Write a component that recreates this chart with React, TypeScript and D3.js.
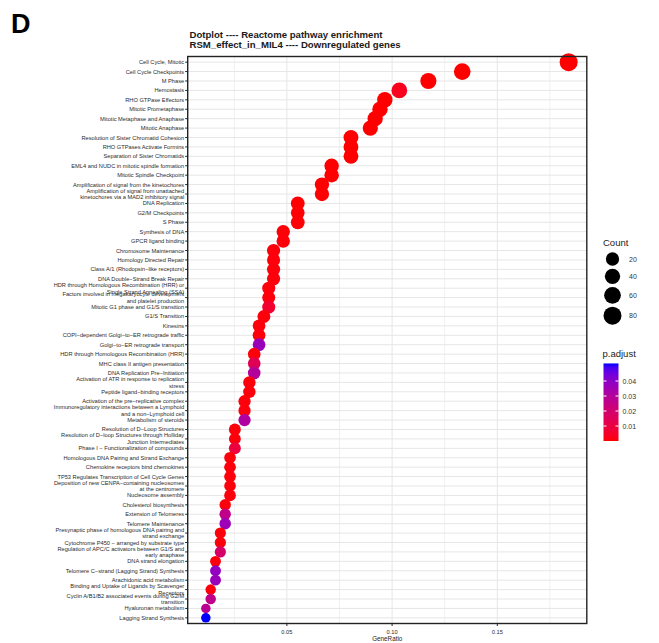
import React from "react";
import * as d3 from "d3";

const pathways: string[] = [
  "Cell Cycle, Mitotic",
  "Cell Cycle Checkpoints",
  "M Phase",
  "Hemostasis",
  "RHO GTPase Effectors",
  "Mitotic Prometaphase",
  "Mitotic Metaphase and Anaphase",
  "Mitotic Anaphase",
  "Resolution of Sister Chromatid Cohesion",
  "RHO GTPases Activate Formins",
  "Separation of Sister Chromatids",
  "EML4 and NUDC in mitotic spindle formation",
  "Mitotic Spindle Checkpoint",
  "Amplification of signal from the kinetochores",
  "Amplification  of signal from unattached\nkinetochores via a MAD2  inhibitory signal",
  "DNA Replication",
  "G2/M Checkpoints",
  "S Phase",
  "Synthesis of DNA",
  "GPCR ligand binding",
  "Chromosome Maintenance",
  "Homology Directed Repair",
  "Class A/1 (Rhodopsin\u2212like receptors)",
  "DNA Double\u2212Strand Break Repair",
  "HDR through Homologous Recombination (HRR) or\nSingle Strand Annealing (SSA)",
  "Factors involved in megakaryocyte development\nand platelet production",
  "Mitotic G1 phase and G1/S transition",
  "G1/S Transition",
  "Kinesins",
  "COPI\u2212dependent Golgi\u2212to\u2212ER retrograde traffic",
  "Golgi\u2212to\u2212ER retrograde transport",
  "HDR through Homologous Recombination (HRR)",
  "MHC class II antigen presentation",
  "DNA Replication Pre\u2212Initiation",
  "Activation of ATR in response to replication\nstress",
  "Peptide ligand\u2212binding receptors",
  "Activation of the pre\u2212replicative complex",
  "Immunoregulatory interactions between a Lymphoid\nand a non\u2212Lymphoid cell",
  "Metabolism of steroids",
  "Resolution of D\u2212Loop Structures",
  "Resolution of D\u2212loop Structures through Holliday\nJunction Intermediates",
  "Phase I \u2212 Functionalization of compounds",
  "Homologous DNA Pairing and Strand Exchange",
  "Chemokine receptors bind chemokines",
  "TP53 Regulates Transcription of Cell Cycle Genes",
  "Deposition of new CENPA\u2212containing nucleosomes\nat the centromere",
  "Nucleosome assembly",
  "Cholesterol biosynthesis",
  "Extension of Telomeres",
  "Telomere Maintenance",
  "Presynaptic phase of homologous DNA pairing and\nstrand exchange",
  "Cytochrome P450 \u2212 arranged by substrate type",
  "Regulation of APC/C activators between G1/S and\nearly anaphase",
  "DNA strand elongation",
  "Telomere C\u2212strand (Lagging Strand) Synthesis",
  "Arachidonic acid metabolism",
  "Binding and Uptake of Ligands by Scavenger\nReceptors",
  "Cyclin A/B1/B2 associated events during G2/M\ntransition",
  "Hyaluronan metabolism",
  "Lagging Strand Synthesis",
];

const geneCounts: number[] = [
  80, 58, 51, 45, 42, 41, 40, 39, 35, 35,
  35, 31, 31, 29, 29, 24, 24, 24, 21, 21,
  19, 19, 19, 19, 18, 18, 18, 17, 16, 16,
  16, 15, 15, 15, 14, 14, 13, 13, 13, 11,
  11, 11, 10, 10, 10, 10, 10, 9, 9, 9,
  8, 8, 8, 7, 7, 7, 6, 6, 5, 5,
];

const pAdjust: number[] = [
  1e-12, 1e-9, 1e-8, 0.003, 1e-6, 2e-6, 3e-6, 5e-6, 1e-5, 2e-5,
  3e-5, 1e-4, 1e-4, 2e-4, 2e-4, 3e-4, 4e-4, 5e-4, 6e-4, 8e-4,
  9e-4, 1e-3, 1e-3, 1e-3, 1e-3, 1e-3, 0.006, 1e-3, 1e-3, 1e-3,
  0.037, 1e-3, 0.014, 0.03, 1e-3, 1e-3, 1e-3, 1e-3, 0.031, 1e-3,
  1e-3, 0.009, 1e-3, 1e-3, 1e-3, 1e-3, 1e-3, 1e-3, 0.026, 0.036,
  1e-3, 1e-3, 0.018, 1e-3, 0.038, 0.037, 1e-3, 0.026, 0.028, 0.0517,
];

const totalGenes = 435;
const xMajorTicks: number[] = [0.05, 0.1, 0.15];
const xMinorTicks: number[] = [0.025, 0.075, 0.125, 0.175];
const xTickLabels: string[] = ["0.05", "0.10", "0.15"];
const countBreaks: number[] = [20, 40, 60, 80];
const padjBreaks: number[] = [0.01, 0.02, 0.03, 0.04];
const padjBreakLabels: string[] = ["0.01", "0.02", "0.03", "0.04"];

const titleLines: string[] = [
  "Dotplot ---- Reactome pathway enrichment",
  "RSM_effect_in_MIL4 ---- Downregulated genes",
];

const FONT = "'Liberation Sans', Arial, Helvetica, sans-serif";

export default function App() {
  const W = 659;
  const H = 643;
  const panel = { left: 187.7, right: 586.8, top: 56.5, bottom: 623.5 };

  const ratios = geneCounts.map((c) => c / totalGenes);
  const [rmin, rmax] = d3.extent(ratios) as [number, number];
  const pad = (rmax - rmin) * 0.05;
  const x = d3
    .scaleLinear()
    .domain([rmin - pad, rmax + pad])
    .range([panel.left, panel.right]);

  const y = d3
    .scalePoint<number>()
    .domain(pathways.map((_, i) => i))
    .range([panel.top, panel.bottom])
    .padding(0.6);

  const [cmin, cmax] = d3.extent(geneCounts) as [number, number];
  const diam = d3.scaleSqrt().domain([0, cmax - cmin]).range([9.5, 18]);
  const dOf = (c: number) => diam(Math.max(0, c - cmin));

  const [pmin, pmax] = d3.extent(pAdjust) as [number, number];
  const color = d3
    .scaleLinear<string>()
    .domain([pmin, pmax])
    .range(["red", "blue"])
    .interpolate(d3.interpolateLab);

  const barY = d3.scaleLinear().domain([0.01, 0.04]).range([426, 381]);
  const barTop = barY(pmax);
  const barBottom = barY(pmin);
  const barX = 603.5;
  const barW = 15;
  const gradStops = d3.range(0, 1.0001, 0.05);

  const sizeLegendY: number[] = [];
  let cy = 259;
  countBreaks.forEach((c, i) => {
    if (i > 0) cy += dOf(countBreaks[i - 1]) / 2 + dOf(c) / 2 + 3;
    sizeLegendY.push(cy);
  });

  const labelFs = 5.7;
  const lineH = 6.8;

  return (
    <svg
      width={W}
      height={H}
      style={{ position: "absolute", left: 0, top: 0, background: "#fff" }}
      fontFamily={FONT}
    >
      <rect x={0} y={0} width={W} height={H} fill="#fff" />
      <text x={11} y={33} fontSize={27} fontWeight="bold" fill="#000">
        D
      </text>
      {titleLines.map((t, i) => (
        <text
          key={t}
          x={189.5}
          y={38.2 + i * 9.9}
          fontSize={9.6}
          fontWeight="bold"
          fill="#1a1a1a"
        >
          {t}
        </text>
      ))}

      <rect
        x={panel.left}
        y={panel.top}
        width={panel.right - panel.left}
        height={panel.bottom - panel.top}
        fill="#fff"
      />
      {xMinorTicks.map((v) => (
        <line
          key={"mn" + v}
          x1={x(v)}
          x2={x(v)}
          y1={panel.top}
          y2={panel.bottom}
          stroke="#ececec"
          strokeWidth={0.8}
        />
      ))}
      {xMajorTicks.map((v) => (
        <line
          key={"mj" + v}
          x1={x(v)}
          x2={x(v)}
          y1={panel.top}
          y2={panel.bottom}
          stroke="#e6e6e6"
          strokeWidth={1}
        />
      ))}
      {pathways.map((_, i) => (
        <line
          key={"hg" + i}
          x1={panel.left}
          x2={panel.right}
          y1={y(i)}
          y2={y(i)}
          stroke="#e6e6e6"
          strokeWidth={1}
        />
      ))}

      {pathways.map((_, i) => (
        <circle
          key={"pt" + i}
          cx={x(ratios[i])}
          cy={y(i)}
          r={dOf(geneCounts[i]) / 2}
          fill={color(pAdjust[i])}
        />
      ))}

      <rect
        x={panel.left}
        y={panel.top}
        width={panel.right - panel.left}
        height={panel.bottom - panel.top}
        fill="none"
        stroke="#222"
        strokeWidth={1.4}
      />

      {pathways.map((lab, i) => {
        const yy = y(i) as number;
        const lines = lab.split("\n");
        const off = ((lines.length - 1) * lineH) / 2;
        return (
          <g key={"yl" + i}>
            <line
              x1={panel.left - 2.5}
              x2={panel.left}
              y1={yy}
              y2={yy}
              stroke="#222"
              strokeWidth={1}
            />
            <text
              x={panel.left - 3.5}
              y={yy - off}
              fontSize={labelFs}
              fill="#2a2a2a"
              textAnchor="end"
              dominantBaseline="central"
            >
              {lines.map((ln, k) => (
                <tspan key={k} x={panel.left - 3.5} dy={k === 0 ? 0 : lineH}>
                  {ln}
                </tspan>
              ))}
            </text>
          </g>
        );
      })}

      {xMajorTicks.map((v, i) => (
        <g key={"xt" + v}>
          <line
            x1={x(v)}
            x2={x(v)}
            y1={panel.bottom}
            y2={panel.bottom + 2.5}
            stroke="#222"
            strokeWidth={1}
          />
          <text
            x={x(v)}
            y={633.5}
            fontSize={labelFs}
            fill="#2a2a2a"
            textAnchor="middle"
          >
            {xTickLabels[i]}
          </text>
        </g>
      ))}
      <text
        x={(panel.left + panel.right) / 2}
        y={640.5}
        fontSize={6.3}
        fill="#222"
        textAnchor="middle"
      >
        GeneRatio
      </text>

      <text x={603} y={245.5} fontSize={9.5} fill="#222">
        Count
      </text>
      {countBreaks.map((c, i) => (
        <g key={"cl" + c}>
          <circle cx={612.5} cy={sizeLegendY[i]} r={dOf(c) / 2} fill="#000" />
          <text
            x={629}
            y={sizeLegendY[i]}
            fontSize={7}
            fill="#333"
            dominantBaseline="central"
          >
            {c}
          </text>
        </g>
      ))}

      <text x={602.5} y={356.5} fontSize={9.5} fill="#222">
        p.adjust
      </text>
      <defs>
        <linearGradient id="padjGrad" x1="0" y1="1" x2="0" y2="0">
          {gradStops.map((t) => (
            <stop
              key={t}
              offset={t}
              stopColor={color(pmin + (pmax - pmin) * t)}
            />
          ))}
        </linearGradient>
      </defs>
      <rect
        x={barX}
        y={barTop}
        width={barW}
        height={barBottom - barTop}
        fill="url(#padjGrad)"
      />
      {padjBreaks.map((v, i) => (
        <g key={"pb" + v}>
          <line
            x1={barX}
            x2={barX + 3}
            y1={barY(v)}
            y2={barY(v)}
            stroke="#fff"
            strokeWidth={1}
          />
          <line
            x1={barX + barW - 3}
            x2={barX + barW}
            y1={barY(v)}
            y2={barY(v)}
            stroke="#fff"
            strokeWidth={1}
          />
          <text
            x={barX + barW + 4}
            y={barY(v)}
            fontSize={7}
            fill="#333"
            dominantBaseline="central"
          >
            {padjBreakLabels[i]}
          </text>
        </g>
      ))}
    </svg>
  );
}
